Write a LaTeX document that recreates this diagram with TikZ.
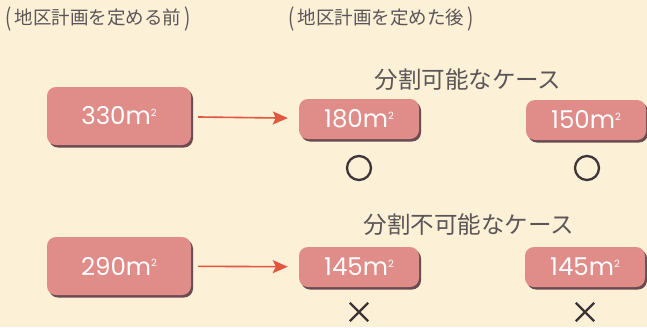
\documentclass[tikz,border=0pt]{standalone}
\usepackage{fontspec}
\newfontfamily\cjk{Noto Sans CJK JP}
\newfontfamily\numfont{Poppins}
\usetikzlibrary{arrows.meta,shadows}
\definecolor{bgc}{HTML}{FCF0D6}
\definecolor{boxc}{HTML}{E08C88}
\definecolor{shadc}{HTML}{6B4A52}
\definecolor{txtc}{HTML}{5A5558}
\definecolor{markc}{HTML}{3E3438}
\definecolor{arrc}{HTML}{E2553F}
\newcommand{\sqm}{m\raisebox{8.5pt}{\fontsize{10}{10}\selectfont 2}}
\newcommand{\lpar}{\raisebox{-2.2pt}{\scalebox{1}[1.3]{(}}\hspace{3.5pt}}
\newcommand{\rpar}{\hspace{3pt}\raisebox{-2.2pt}{\scalebox{1}[1.3]{)}}}
\tikzset{
  area/.style={draw=none, fill=boxc, rounded corners=9pt, text=white,
    font=\numfont\fontsize{24.5}{24.5}\selectfont, inner sep=0pt,
    drop shadow={shadow xshift=2pt, shadow yshift=-2.5pt, fill=shadc, opacity=1}},
  bigbox/.style={area, minimum width=144pt, minimum height=58pt},
  smallbox/.style={area, minimum width=120pt, minimum height=40pt},
  title/.style={text=txtc, font=\cjk\fontsize{18.5}{18.5}\selectfont, inner sep=0pt},
  caselabel/.style={text=txtc, font=\cjk\fontsize{23.5}{23.5}\selectfont, inner sep=0pt},
  conn/.style={draw=arrc, line width=1.6pt, shorten <=7pt, shorten >=11pt,
    -{Stealth[length=15pt,width=13pt,inset=3pt]}},
  okmark/.style={draw=markc, line width=2.3pt, circle, minimum size=24pt, inner sep=0pt},
  ngmark/.style={inner sep=0pt, minimum size=18pt},
  ngline/.style={draw=markc, line width=2.2pt},
}
\begin{document}
\begin{tikzpicture}[x=1pt,y=-1pt]
\fill[bgc] (0,0) rectangle (647,327);
\useasboundingbox (0,0) rectangle (647,327);
\node[title, anchor=west] (t1) at (5,19.5) {\lpar 地区計画を定める前\rpar};
\node[title, anchor=west] (t2) at (288,19.5) {\lpar 地区計画を定めた後\rpar};
\node[caselabel] (c1) at (468,80) {分割可能なケース};
\node[caselabel] (c2) at (469,225) {分割不可能なケース};
\node[bigbox] (a) at (119,116) {330\sqm};
\node[smallbox] (b) at (359,119) {180\sqm};
\node[smallbox] (c) at (586,120) {150\sqm};
\draw[conn] (a) -- (b);
\node[okmark] (o1) at (359,168) {};
\node[okmark] (o2) at (587,168) {};
\node[bigbox] (d) at (119,266) {290\sqm};
\node[smallbox] (e) at (359,267) {145\sqm};
\node[smallbox] (f) at (585,267) {145\sqm};
\draw[conn] (d) -- (e);
\node[ngmark] (x1) at (359,312) {};
\draw[ngline] (x1.north west) -- (x1.south east) (x1.north east) -- (x1.south west);
\node[ngmark] (x2) at (585,312) {};
\draw[ngline] (x2.north west) -- (x2.south east) (x2.north east) -- (x2.south west);
\end{tikzpicture}
\end{document}
